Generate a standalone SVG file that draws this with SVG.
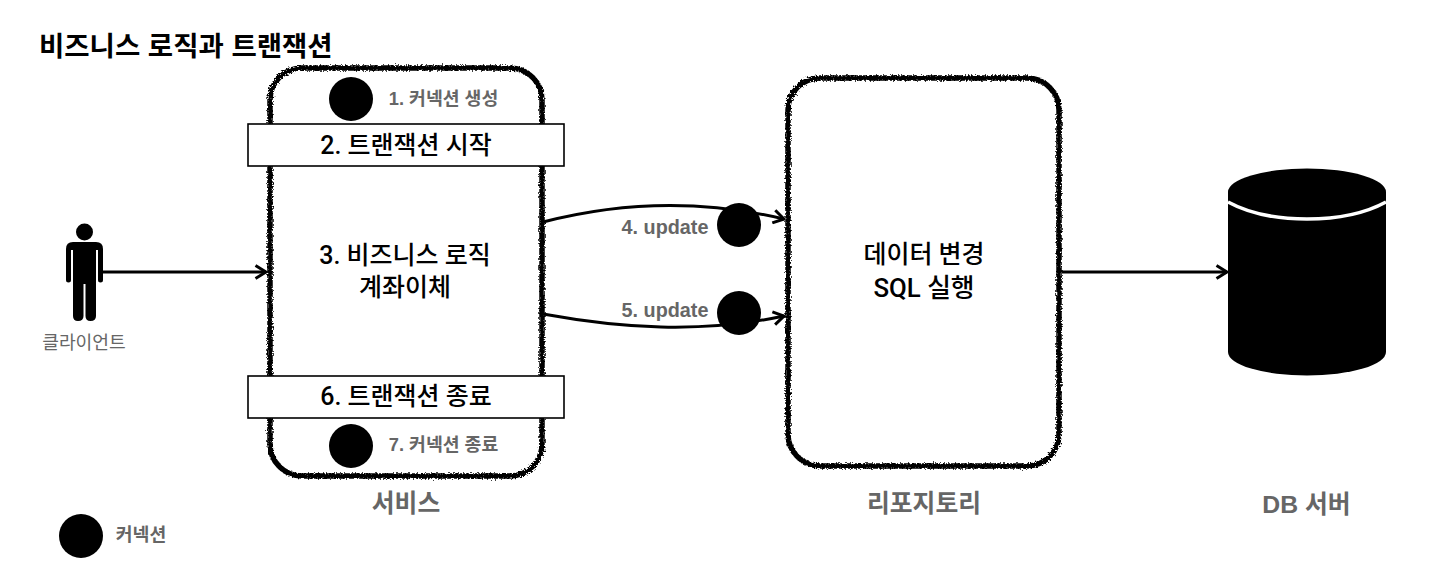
<svg xmlns="http://www.w3.org/2000/svg" width="1452" height="578" viewBox="0 0 1452 578">
  <style>
    text { font-family: "Liberation Sans", "Noto Sans CJK KR", sans-serif; text-anchor: middle; }
    .title { font-size: 27.500px; font-weight: 700; fill: #000; text-anchor: start; }
    .main { font-family: Roboto, "Noto Sans CJK KR", sans-serif; font-size: 25px; font-weight: 500; fill: #000; }
    .step { font-size: 18.300px; font-weight: 700; fill: #666; }
    .update { font-size: 19.800px; font-weight: 700; fill: #666; }
    .caption { font-size: 24.800px; font-weight: 700; fill: #666; }
    .client { font-size: 18.200px; font-weight: 400; fill: #666; }
    .rough { fill: #fff; stroke: #000; stroke-width: 5.500; filter: url(#sketchy); }
    .bar { fill: #fff; stroke: #000; stroke-width: 1.600; }
    .conn { fill: none; stroke: #000; stroke-width: 3; }
  </style>
  <defs>
    <filter id="sketchy" x="-3%" y="-3%" width="106%" height="106%">
      <feTurbulence type="fractalNoise" baseFrequency="0.6" numOctaves="2" seed="4" result="n"/>
      <feDisplacementMap in="SourceGraphic" in2="n" scale="5"/>
    </filter>
    <marker id="open" viewBox="0 0 14 16" refX="12.500" refY="8" markerWidth="14" markerHeight="16" markerUnits="userSpaceOnUse" orient="auto">
      <path d="M2 1.500 L12.500 8 L2 14.500" fill="none" stroke="#000" stroke-width="3"/>
    </marker>
  </defs>

  <text class="title" x="39" y="56">비즈니스 로직과 트랜잭션</text>

  <g id="service">
    <rect class="rough" x="270" y="68" width="272" height="408" rx="32"/>
    <text class="caption" x="406" y="512">서비스</text>
  </g>
  <g id="repository">
    <rect class="rough" x="788" y="78" width="271" height="388" rx="32"/>
    <text class="main" x="924" y="263">데이터 변경</text>
    <text class="main" x="924" y="297" style="font-size:25.800px">SQL 실행</text>
    <text class="caption" x="924" y="512">리포지토리</text>
  </g>

  <g id="connectors">
    <path class="conn" d="M103 272 H266" marker-end="url(#open)"/>
    <path class="conn" d="M543 222 C620 202 700 199 784 219" marker-end="url(#open)"/>
    <path class="conn" d="M543 314 C620 328 700 334 784 316" marker-end="url(#open)"/>
    <path class="conn" d="M1062 272 H1227" marker-end="url(#open)"/>
  </g>

  <g id="client">
    <circle cx="84.500" cy="232" r="8.500"/>
    <path d="M73 242 H96 Q103 242 103 249 V280 Q103 282.500 100.500 282.500 Q98 282.500 98 280 V250 H96 V316 Q96 321 90.500 321 Q85.500 321 85.500 316 V284 H83.500 V316 Q83.500 321 78 321 Q73 321 73 316 V250 H71 V280 Q71 282.500 68.500 282.500 Q66 282.500 66 280 V249 Q66 242 73 242 Z"/>
    <text class="client" x="84" y="349">클라이언트</text>
  </g>

  <g id="step-1">
    <circle cx="351" cy="99" r="22"/>
    <text class="step" x="443.500" y="105">1. 커넥션 생성</text>
  </g>
  <g id="step-2">
    <rect class="bar" x="248" y="124" width="316" height="42"/>
    <text class="main" x="406" y="154">2. 트랜잭션 시작</text>
  </g>
  <g id="step-3">
    <text class="main" x="405" y="264">3. 비즈니스 로직</text>
    <text class="main" x="405" y="296">계좌이체</text>
  </g>
  <g id="step-4">
    <circle cx="739" cy="225" r="22"/>
    <text class="update" x="665" y="234">4. update</text>
  </g>
  <g id="step-5">
    <circle cx="739" cy="313" r="22"/>
    <text class="update" x="665" y="317">5. update</text>
  </g>
  <g id="step-6">
    <rect class="bar" x="248" y="376" width="316" height="42"/>
    <text class="main" x="406" y="405">6. 트랜잭션 종료</text>
  </g>
  <g id="step-7">
    <circle cx="351" cy="446" r="22"/>
    <text class="step" x="443.500" y="451">7. 커넥션 종료</text>
  </g>

  <g id="db">
    <path d="M1228 192 A79 23.500 0 0 1 1386 192 V352 A79 23.500 0 0 1 1228 352 Z"/>
    <path d="M1228 202 C1250 214 1280 219 1307 219 C1334 219 1364 214 1386 202" fill="none" stroke="#fff" stroke-width="3.500"/>
    <text class="caption" x="1306.500" y="513">DB 서버</text>
  </g>

  <g id="legend">
    <circle cx="81" cy="536" r="22"/>
    <text class="step" x="141" y="541">커넥션</text>
  </g>
</svg>
